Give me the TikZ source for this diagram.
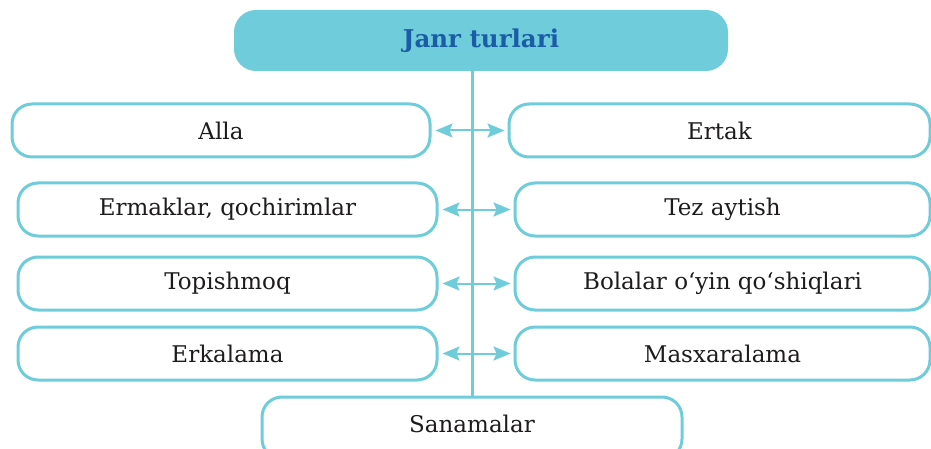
\documentclass[tikz,border=0pt]{standalone}
\usepackage{fontspec}
\setmainfont{DejaVu Serif}
\usetikzlibrary{arrows.meta}
\definecolor{teal}{HTML}{6FCCDA}
\definecolor{titleblue}{HTML}{1B5CA6}
\definecolor{txt}{HTML}{1E1B1C}
\tikzset{
  box/.style={draw=teal, line width=3pt, rounded corners=20pt, fill=white,
    minimum height=53pt, inner sep=0pt, text=txt,
    font=\fontsize{23}{27}\selectfont},
  titlebox/.style={fill=teal, rounded corners=22pt, minimum width=494pt,
    minimum height=61pt, inner sep=0pt, text=titleblue,
    font=\fontsize{24.5}{28}\selectfont\bfseries},
  tip/.tip={Stealth[length=17pt,width=14pt,inset=3pt]},
  link/.style={draw=teal, line width=2pt, tip-tip, shorten <=4pt, shorten >=3pt},
  stem/.style={draw=teal, line width=3pt}
}
\begin{document}
\begin{tikzpicture}[x=1pt,y=-1pt]
\useasboundingbox (0,0) rectangle (931,449);
\node[titlebox] (title) at (481,40.5) {Janr turlari};
\coordinate (stemtop) at (472,71);
\node[box, minimum width=420pt, minimum height=62pt] (bot) at (472,428) {};
\node[text=txt, font=\fontsize{23}{27}\selectfont] (bottxt) at (472,424) {Sanamalar};
\coordinate (stembot) at (472,397);
\draw[stem] (stemtop) -- (stembot);
\node[box, minimum width=418pt] (l1) at (221,130.5) {Alla};
\node[box, minimum width=421pt] (r1) at (719.5,130.5) {Ertak};
\node[box, minimum width=419pt] (l2) at (227.5,209.5) {Ermaklar, qochirimlar};
\node[box, minimum width=415pt] (r2) at (722.5,209.5) {Tez aytish};
\node[box, minimum width=419pt] (l3) at (227.5,283.5) {Topishmoq};
\node[box, minimum width=415pt] (r3) at (722.5,283.5) {Bolalar o‘yin qo‘shiqlari};
\node[box, minimum width=419pt] (l4) at (227.5,353.5) {Erkalama};
\node[box, minimum width=415pt] (r4) at (722.5,353.5) {Masxaralama};
\draw[link] (l1.east) -- (r1.west);
\draw[link] (l2.east) -- (r2.west);
\draw[link] (l3.east) -- (r3.west);
\draw[link] (l4.east) -- (r4.west);
\end{tikzpicture}
\end{document}
